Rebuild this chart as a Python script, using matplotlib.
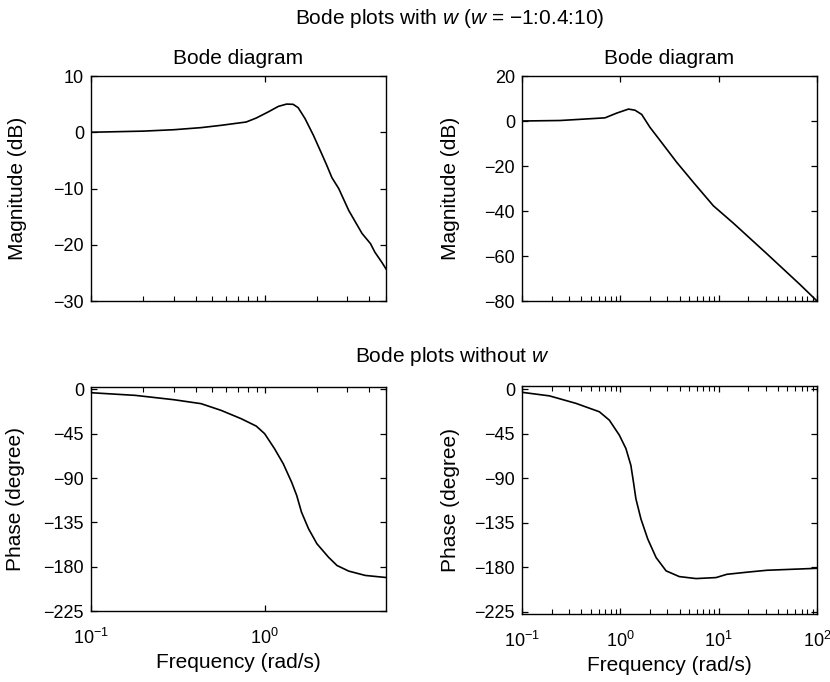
import numpy as np
import matplotlib
matplotlib.use("Agg")
import matplotlib.pyplot as plt
from matplotlib.ticker import LogLocator, NullFormatter

plt.rcParams["font.family"] = ["Liberation Sans", "DejaVu Sans"]
plt.rcParams["mathtext.fontset"] = "custom"
plt.rcParams["mathtext.rm"] = "Liberation Sans"
plt.rcParams["mathtext.it"] = "Liberation Sans:italic"
plt.rcParams["axes.unicode_minus"] = True

# left column: user supplied frequency vector
w_left_mag = [0.1, 0.2, 0.3, 0.43, 0.561, 0.783, 0.895, 1.047, 1.2, 1.34,
              1.46, 1.56, 1.71, 1.91, 2.13, 2.28, 2.44, 2.67, 3.05, 3.64,
              4.07, 4.31, 4.75, 5.0]
mag_left = [0.0, 0.2, 0.45, 0.82, 1.23, 1.82, 2.53, 3.60, 4.60, 5.01,
            4.96, 4.37, 2.41, -0.55, -3.81, -5.88, -8.07, -10.0, -13.9, -18.0,
            -19.8, -21.3, -23.2, -24.3]

w_left_ph = [0.1, 0.18, 0.3, 0.43, 0.561, 0.733, 0.895, 1.0, 1.14, 1.28,
             1.43, 1.53, 1.63, 1.79, 2.0, 2.33, 2.61, 3.05, 3.8, 5.0]
ph_left = [-3.4, -6.1, -10.5, -14.5, -21.3, -29.8, -37.3, -45.0, -60.2, -75.5,
           -94.2, -107.7, -124.6, -141.5, -156.7, -170.3, -178.8, -184.5, -188.9, -191.0]

# right column: automatic frequency vector
w_right_mag = [0.1, 0.244, 0.698, 0.918, 1.21, 1.41, 1.65, 2.0, 2.54, 3.75,
               5.54, 8.84, 14.1, 30.9, 67.6, 100.0]
mag_right = [0.0, 0.22, 1.4, 3.5, 5.3, 4.8, 2.9, -2.8, -8.7, -18.4,
             -27.3, -37.7, -45.4, -59.0, -72.8, -80.0]

w_right_ph = [0.1, 0.19, 0.354, 0.612, 0.773, 0.977, 1.14, 1.28, 1.36, 1.44,
              1.62, 1.90, 2.31, 2.92, 3.98, 5.89, 9.41, 12.1, 20.0, 30.9, 100.0]
ph_right = [-2.9, -6.5, -14.1, -22.6, -31.1, -46.3, -59.9, -76.9, -93.9, -110.8,
            -131.2, -151.5, -170.3, -183.8, -189.6, -191.6, -190.6, -187.3, -185.0, -183.2, -181.2]

mag_ticks_left = [10, 0, -10, -20, -30]
mag_ticks_right = [20, 0, -20, -40, -60, -80]
phase_ticks = [0, -45, -90, -135, -180, -225]

FS_TICK = 13
FS_TEXT = 15

fig = plt.figure(figsize=(8.3, 6.82), dpi=100)
W = 295 / 830
ax_tl = fig.add_axes([91 / 830, 1 - 301 / 682, W, 225 / 682])
ax_tr = fig.add_axes([522 / 830, 1 - 301 / 682, W, 225 / 682])
ax_bl = fig.add_axes([91 / 830, 1 - 611 / 682, W, 224 / 682])
ax_br = fig.add_axes([522 / 830, 1 - 614 / 682, W, 228 / 682])


def style(ax, xlim, ylim, yticks, ylabel, minor_top, minor_bottom, xlabels):
    ax.set_xscale("log")
    ax.set_xlim(*xlim)
    ax.set_ylim(*ylim)
    ax.set_yticks(yticks)
    ax.xaxis.set_major_locator(LogLocator(base=10, numticks=10))
    ax.xaxis.set_minor_locator(LogLocator(base=10, subs=np.arange(2, 10), numticks=20))
    ax.xaxis.set_minor_formatter(NullFormatter())
    ax.tick_params(which="major", direction="in", top=True, right=True,
                   length=4.5, width=0.9, labelsize=FS_TICK)
    ax.tick_params(axis="y", which="major", pad=5)
    ax.tick_params(axis="x", which="major", pad=12)
    ax.tick_params(which="minor", direction="in", top=minor_top,
                   bottom=minor_bottom, length=3.5, width=0.8)
    if not xlabels:
        ax.tick_params(axis="x", labelbottom=False)
    for s in ax.spines.values():
        s.set_linewidth(1.0)
    ax.set_ylabel(ylabel, fontsize=FS_TEXT)


ax_tl.plot(w_left_mag, mag_left, color="black", lw=1.2)
style(ax_tl, (0.1, 5.0), (-30, 10), mag_ticks_left, "Magnitude (dB)", False, True, False)
ax_tl.set_title("Bode diagram", fontsize=FS_TEXT, pad=9)
ax_tl.yaxis.set_label_coords(-0.217, 0.5)

ax_tr.plot(w_right_mag, mag_right, color="black", lw=1.2)
style(ax_tr, (0.1, 100), (-80, 20), mag_ticks_right, "Magnitude (dB)", False, True, False)
ax_tr.set_title("Bode diagram", fontsize=FS_TEXT, pad=9)
ax_tr.yaxis.set_label_coords(-0.21, 0.5)

ax_bl.plot(w_left_ph, ph_left, color="black", lw=1.2)
style(ax_bl, (0.1, 5.0), (-225, 2.4), phase_ticks, "Phase (degree)", True, False, True)
ax_bl.set_xlabel("Frequency (rad/s)", fontsize=FS_TEXT)
ax_bl.yaxis.set_label_coords(-0.224, 0.5)

ax_br.plot(w_right_ph, ph_right, color="black", lw=1.2)
style(ax_br, (0.1, 100), (-227.5, 3.5), phase_ticks, "Phase (degree)", True, True, True)
ax_br.set_xlabel("Frequency (rad/s)", fontsize=FS_TEXT)
ax_br.yaxis.set_label_coords(-0.21, 0.5)

fig.text(450 / 830, 1 - 19 / 682, "Bode plots with $w$ ($w$ = \u22121:0.4:10)",
         ha="center", va="center", fontsize=FS_TEXT)
fig.text(452 / 830, 1 - 357 / 682, "Bode plots without $w$",
         ha="center", va="center", fontsize=FS_TEXT)

fig.savefig("out.png", dpi=100)
